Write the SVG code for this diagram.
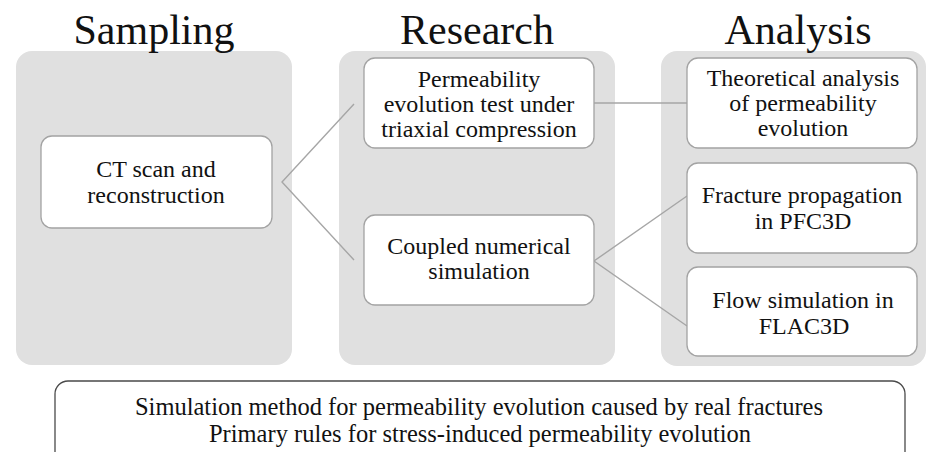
<svg xmlns="http://www.w3.org/2000/svg" width="927" height="452" viewBox="0 0 927 452">
<style>
.panel{fill:#e0e0e0;stroke:none}
.box{fill:#ffffff;stroke:#a3a3a3;stroke-width:1.3}
.conn{stroke:#a6a6a6;stroke-width:1.4;fill:none}
text{fill:#111;text-anchor:middle}
.title{font-size:42px}
.t{font-size:24px}
.b{font-size:25px}
</style>
<rect width="927" height="452" fill="#ffffff"/>
<g font-family="'Liberation Serif', Tinos, 'Times New Roman', Times, serif">
<g id="panel-sampling">
<rect class="panel" x="16" y="51" width="276" height="314" rx="16"/>
<text class="title" x="154" y="44">Sampling</text>
</g>
<g id="panel-research">
<rect class="panel" x="339" y="51" width="276" height="314" rx="16"/>
<text class="title" x="477" y="44">Research</text>
</g>
<g id="panel-analysis">
<rect class="panel" x="661" y="51" width="265" height="315" rx="16"/>
<text class="title" x="798" y="44">Analysis</text>
</g>
<g id="connectors">
<polyline class="conn" points="354,104 282,182 354,260"/>
<line class="conn" x1="594" y1="103" x2="687" y2="103"/>
<polyline class="conn" points="687,196 594,261 687,326"/>
</g>
<g id="node-ct">
<rect class="box" x="41" y="136" width="231" height="92" rx="11"/>
<text class="t" x="156" y="177">CT scan and</text>
<text class="t" x="156" y="203">reconstruction</text>
</g>
<g id="node-perm-test">
<rect class="box" x="364" y="58" width="230" height="90" rx="11"/>
<text class="t" x="479" y="87">Permeability</text>
<text class="t" x="479" y="112">evolution test under</text>
<text class="t" x="479" y="137">triaxial compression</text>
</g>
<g id="node-coupled">
<rect class="box" x="364" y="215" width="230" height="90" rx="11"/>
<text class="t" x="479" y="254">Coupled numerical</text>
<text class="t" x="479" y="279">simulation</text>
</g>
<g id="node-theory">
<rect class="box" x="687" y="58" width="230" height="90" rx="11"/>
<text class="t" x="803" y="86">Theoretical analysis</text>
<text class="t" x="803" y="111">of permeability</text>
<text class="t" x="803" y="136">evolution</text>
</g>
<g id="node-fracture">
<rect class="box" x="687" y="163" width="230" height="90" rx="11"/>
<text class="t" x="802" y="203">Fracture propagation</text>
<text class="t" x="803" y="229">in PFC3D</text>
</g>
<g id="node-flow">
<rect class="box" x="687" y="267" width="230" height="89" rx="11"/>
<text class="t" x="803" y="308">Flow simulation in</text>
<text class="t" x="804" y="334">FLAC3D</text>
</g>
<g id="node-conclusions">
<rect x="55" y="381" width="850" height="100" rx="13" fill="#ffffff" stroke="#4a4a4a" stroke-width="1.3"/>
<text class="b" x="479" y="415" textLength="688" lengthAdjust="spacingAndGlyphs">Simulation method for permeability evolution caused by real fractures</text>
<text class="b" x="480" y="442" textLength="542" lengthAdjust="spacingAndGlyphs">Primary rules for stress-induced permeability evolution</text>
</g>
</g>
</svg>
